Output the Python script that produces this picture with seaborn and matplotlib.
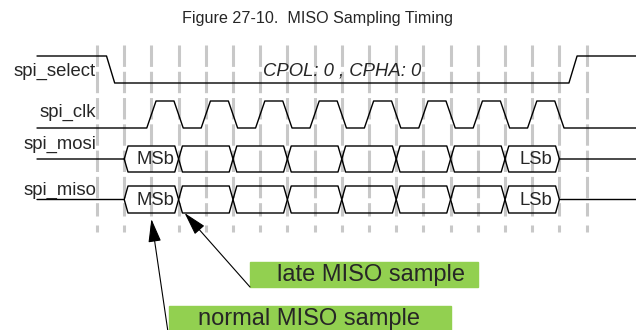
import numpy as np
import pandas as pd
import seaborn as sns
import matplotlib.pyplot as plt
from matplotlib.patches import Rectangle

# signal names and timing, in units of the dashed grid (half clock periods)
signal_names = ['spi_select', 'spi_clk', 'spi_mosi', 'spi_miso']
grid_marks = [0, 1, 2, 3, 4, 5, 6, 7, 8, 9, 10, 11, 12, 13, 14, 15, 16, 17, 18]
select_edges = [0.5, 17.5]                       # falling, rising
clk_edges = [2, 3, 4, 5, 6, 7, 8, 9, 10, 11, 12, 13, 14, 15, 16, 17]
bus_changes = [1, 3, 5, 7, 9, 11, 13, 15, 17]
bit_labels = ['MSb', '', '', '', '', '', '', 'LSb']
mode_text = 'CPOL: 0 , CPHA: 0'
title = 'Figure 27-10.  MISO Sampling Timing'
normal_sample = 2      # grid mark the normal sample points at
late_sample = 3        # grid mark the late sample points at
notes = ['normal MISO sample', 'late MISO sample']

# layout (x in grid units, y in pixel rows from the top)
px0, pxstep = 97, 27.2
def gx(px):
    return (px - px0) / pxstep

t_start, t_end = gx(37), gx(640)
lev = {'spi_select': (56, 83), 'spi_clk': (101, 128),
       'spi_mosi': (146, 172), 'spi_miso': (186, 213)}
label_base = {'spi_select': 76, 'spi_clk': 117, 'spi_mosi': 149, 'spi_miso': 195}

rows = []
def add(seg, pts):
    for t, y in pts:
        rows.append({'t': t, 'y': y, 'seg': seg})

# spi_select: high, fall, low, rise, high
hi, lo = lev['spi_select']
e = 0.15
add('select', [(t_start, hi), (select_edges[0] - e, hi), (select_edges[0] + e, lo),
               (select_edges[1] - e, lo), (select_edges[1] + e, hi), (t_end, hi)])

# spi_clk: alternating edges, starts low
hi, lo = lev['spi_clk']
e = 0.17
pts = [(t_start, lo)]
state = lo
for c in clk_edges:
    new = hi if state == lo else lo
    pts += [(c - e, state), (c + e, new)]
    state = new
pts.append((t_end, state))
add('clk', pts)

# data buses
h = 0.14
for name in ['spi_mosi', 'spi_miso']:
    top, bot = lev[name]
    mid = (top + bot) / 2
    for k, first in enumerate([top, bot]):
        other = bot if first == top else top
        pts = [(t_start, mid)] if k == 0 else []
        pts.append((bus_changes[0], mid))
        cur = first
        pts.append((bus_changes[0] + h, cur))
        for c in bus_changes[1:-1]:
            nxt = other if cur == first else first
            pts += [(c - h, cur), (c + h, nxt)]
            cur = nxt
        pts += [(bus_changes[-1] - h, cur), (bus_changes[-1], mid)]
        if k == 0:
            pts.append((t_end, mid))
        add(name + str(k), pts)

df = pd.DataFrame(rows)

sns.set_style('white')
plt.rcParams['font.family'] = ['Liberation Sans', 'DejaVu Sans']

fig = plt.figure(figsize=(6.36, 3.30), dpi=100)
ax = fig.add_axes([0, 0, 1, 1])

# dashed timing grid
ax.vlines(grid_marks, 45, 216, colors='#c8c8c8', lw=2.2,
          linestyles=(0, (7, 1.6)), zorder=1)
ax.vlines(grid_marks, 225, 232, colors='#c8c8c8', lw=2.2, zorder=1)

sns.lineplot(data=df, x='t', y='y', units='seg', estimator=None, sort=False,
             color='black', lw=1.0, ax=ax, zorder=3)
ax.set_xlim(gx(0), gx(636))
ax.set_ylim(330, 0)
ax.axis('off')

fs = 13.3
for name in signal_names:
    ax.text(gx(96), label_base[name], name, ha='right', va='baseline', fontsize=fs)

for name in ['spi_mosi', 'spi_miso']:
    mid = sum(lev[name]) / 2
    for i, lab in enumerate(bit_labels):
        if lab:
            c = (bus_changes[i] + bus_changes[i + 1]) / 2 + 0.15
            ax.text(c, mid + 1, lab, ha='center', va='center', fontsize=fs, zorder=4)

ax.text(9, 76, mode_text, ha='center', va='baseline', fontsize=fs, style='italic')
fig.text(0.5, 1 - 23 / 330, title, ha='center', va='baseline', fontsize=11.6)

# callout boxes
green = '#92d050'
ax.add_patch(Rectangle((gx(250), 262), gx(478) - gx(250), 25, color=green, zorder=2))
ax.text(gx(277), 275, notes[1], ha='left', va='center', fontsize=17, zorder=4)
ax.add_patch(Rectangle((gx(169), 306), gx(451) - gx(169), 30, color=green, zorder=2))
ax.text(gx(198), 319, notes[0], ha='left', va='center', fontsize=17, zorder=4)

arrow = dict(arrowstyle='-|>,head_length=0.8,head_width=0.22', color='black',
             lw=0.8, mutation_scale=18, shrinkA=0, shrinkB=0)
ax.annotate('', xy=(normal_sample, 219), xytext=(gx(168), 332),
            arrowprops=arrow, zorder=5)
ax.annotate('', xy=(late_sample + 0.22, 213), xytext=(gx(250), 287),
            arrowprops=arrow, zorder=5)

fig.savefig('out.png', dpi=100)
